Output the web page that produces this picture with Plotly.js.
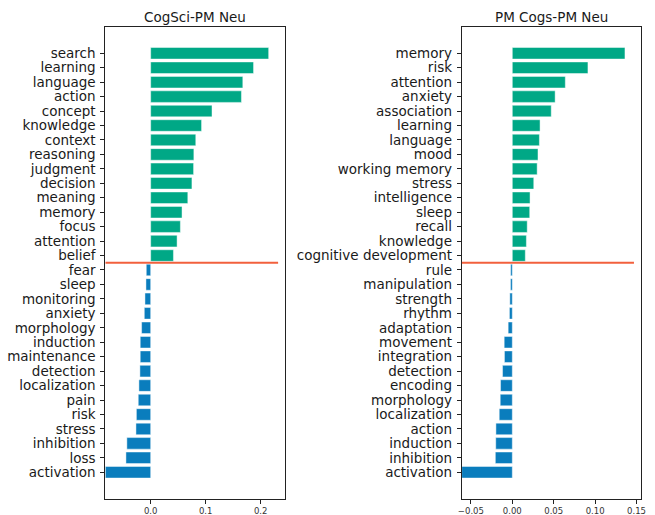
<!DOCTYPE html>
<html>
<head>
<meta charset="utf-8">
<script src="https://cdn.plot.ly/plotly-3.0.1.min.js"></script>
<style>html,body{margin:0;padding:0;background:#fff;}#chart{width:655px;height:515px;}</style>
</head>
<body>
<div id="chart"></div>
<script>
// Left panel: CogSci-PM Neu
var leftTitle = "CogSci-PM Neu";
var leftCats = ["search","learning","language","action","concept","knowledge","context","reasoning","judgment","decision","meaning","memory","focus","attention","belief","fear","sleep","monitoring","anxiety","morphology","induction","maintenance","detection","localization","pain","risk","stress","inhibition","loss","activation"];
var leftVals = [0.2145,0.187,0.1675,0.165,0.1115,0.0925,0.082,0.0785,0.078,0.075,0.0675,0.057,0.054,0.048,0.0414,-0.008,-0.0086,-0.0104,-0.0116,-0.0165,-0.019,-0.019,-0.0196,-0.0214,-0.0226,-0.026,-0.0268,-0.0433,-0.045,-0.0825];

// Right panel: PM Cogs-PM Neu
var rightTitle = "PM Cogs-PM Neu";
var rightCats = ["memory","risk","attention","anxiety","association","learning","language","mood","working memory","stress","intelligence","sleep","recall","knowledge","cognitive development","rule","manipulation","strength","rhythm","adaptation","movement","integration","detection","encoding","morphology","localization","action","induction","inhibition","activation"];
var rightVals = [0.136,0.0913,0.064,0.0517,0.047,0.0335,0.0327,0.031,0.030,0.0259,0.0214,0.021,0.018,0.017,0.0157,-0.002,-0.0022,-0.003,-0.0035,-0.005,-0.0098,-0.0095,-0.0118,-0.0142,-0.0146,-0.0158,-0.0198,-0.020,-0.0205,-0.0611];

var POS = "#00a886", NEG = "#0a7dbd", LINE = "#f2603d";
var FONT = "DejaVu Sans";

function barTrace(cats, vals, xa, ya) {
  return {
    type: "bar", orientation: "h",
    y: cats, x: vals, xaxis: xa, yaxis: ya,
    width: 0.8,
    marker: {color: vals.map(function(v){return v >= 0 ? POS : NEG;}),
             line: {color: "rgba(255,255,255,0.45)", width: 1}},
    hoverinfo: "x+y", showlegend: false
  };
}

function splitIndex(vals) {
  var n = 0; for (var i = 0; i < vals.length; i++) if (vals[i] >= 0) n++;
  return n - 0.5;
}

var lMin = Math.min.apply(null, leftVals), lMax = Math.max.apply(null, leftVals);
var rMin = Math.min.apply(null, rightVals), rMax = Math.max.apply(null, rightVals);

var data = [barTrace(leftCats, leftVals, "x", "y"), barTrace(rightCats, rightVals, "x2", "y2")];

var yDom = [0.0311, 0.9476];
function yaxis(dom, cats) {
  return {
    domain: dom, type: "category", categoryorder: "array", categoryarray: cats,
    tickmode: "array", tickvals: cats, ticktext: cats,
    range: [cats.length + 0.85, -1.82], autorange: false,
    showline: true, mirror: true, linecolor: "#222", linewidth: 1,
    ticks: "outside", ticklen: 4, tickwidth: 1, tickcolor: "#222",
    showgrid: false, zeroline: false,
    tickfont: {family: FONT, size: 13.5, color: "#1a1a1a"},
    ticklabelstandoff: 2
  };
}
function xaxis(dom, rng, dtick, fmt) {
  return {
    domain: dom, range: rng, autorange: false,
    tick0: 0, dtick: dtick, tickformat: fmt,
    showline: true, mirror: true, linecolor: "#222", linewidth: 1,
    ticks: "outside", ticklen: 4, tickwidth: 1, tickcolor: "#222",
    showgrid: false, zeroline: false,
    tickfont: {family: FONT, size: 8.5, color: "#333"}
  };
}

var lDom = [105.3/655, 285/655], rDom = [461.7/655, 640.7/655];

var layout = {
  width: 655, height: 515,
  margin: {l: 0, r: 0, t: 0, b: 0, autoexpand: false},
  paper_bgcolor: "#fff", plot_bgcolor: "#fff",
  font: {family: FONT, color: "#1a1a1a"},
  bargap: 0.2,
  xaxis: xaxis(lDom, [lMin, 0.2442], 0.1, ".1f"),
  yaxis: Object.assign(yaxis(yDom, leftCats), {anchor: "x"}),
  xaxis2: Object.assign(xaxis(rDom, [rMin, 0.155], 0.05, ".2f"), {anchor: "y2"}),
  yaxis2: Object.assign(yaxis(yDom, rightCats), {anchor: "x2"}),
  shapes: [
    {type: "line", xref: "x", yref: "y", x0: lMin, x1: lMax * 1.08,
     y0: splitIndex(leftVals), y1: splitIndex(leftVals), line: {color: LINE, width: 2}},
    {type: "line", xref: "x2", yref: "y2", x0: rMin, x1: rMax * 1.08,
     y0: splitIndex(rightVals), y1: splitIndex(rightVals), line: {color: LINE, width: 2}}
  ],
  annotations: [
    {text: leftTitle, xref: "paper", yref: "paper", x: (lDom[0]+lDom[1])/2, y: (515-17)/515,
     xanchor: "center", yanchor: "middle", showarrow: false, font: {family: FONT, size: 13.5, color: "#1a1a1a"}},
    {text: rightTitle, xref: "paper", yref: "paper", x: (rDom[0]+rDom[1])/2, y: (515-17)/515,
     xanchor: "center", yanchor: "middle", showarrow: false, font: {family: FONT, size: 13.5, color: "#1a1a1a"}}
  ]
};

Plotly.newPlot("chart", data, layout, {displayModeBar: false, staticPlot: true});
</script>
</body>
</html>
